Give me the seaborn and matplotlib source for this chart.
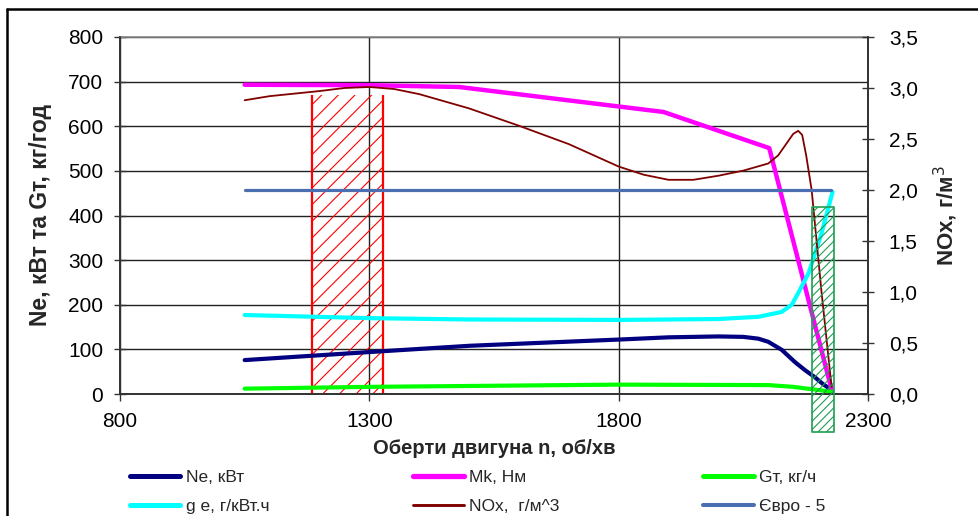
import matplotlib
matplotlib.use("Agg")
import matplotlib.pyplot as plt
import seaborn as sns
import pandas as pd
from matplotlib.lines import Line2D
from matplotlib.ticker import FuncFormatter, MultipleLocator

# ---------------- data ----------------
ne_rpm = [1050, 1300, 1500, 1800, 1900, 2000, 2050, 2080, 2100, 2127, 2153, 2173, 2193, 2210, 2227]
ne_val = [76, 94, 108, 122, 127, 129, 128, 124, 117, 99, 72, 54, 38, 22, 9]

mk_rpm = [1050, 1300, 1480, 1890, 2102, 2227]
mk_val = [693, 692, 688, 632, 551, 10]

gt_rpm = [1050, 1300, 1600, 1800, 2100, 2150, 2200, 2227]
gt_val = [12, 16, 19, 21, 20, 16, 9, 5]

ge_rpm = [1050, 1300, 1500, 1800, 2000, 2080, 2110, 2127, 2147, 2160, 2181, 2207, 2229]
ge_val = [177, 170, 167, 166, 168, 173, 180, 184, 200, 226, 271, 361, 453]

nox_rpm = [1050, 1100, 1200, 1250, 1300, 1350, 1400, 1500, 1600, 1700, 1800, 1850, 1900,
           1950, 2000, 2050, 2100, 2120, 2140, 2150, 2160, 2168, 2176, 2187, 2207, 2227]
nox_val = [2.88, 2.92, 2.97, 3.00, 3.01, 2.99, 2.94, 2.80, 2.63, 2.45, 2.23, 2.15, 2.10,
           2.10, 2.14, 2.19, 2.26, 2.34, 2.48, 2.55, 2.58, 2.54, 2.34, 2.00, 0.99, 0.07]

euro_rpm = [1050, 2225]
euro_val = [2.0, 2.0]

red_zone = [1186, 1327]       # rpm range
red_top = 670                 # left-axis units
green_zone = [2187, 2231]
green_top = 1.83              # right-axis units
green_bottom = -0.37

x_ticks = [800, 1300, 1800, 2300]

labels = {
    "ne": "Ne, кВт", "mk": "Mk, Нм", "gt": "Gт, кг/ч",
    "ge": "g e, г/кВт.ч", "nox": "NOx,  г/м^3", "euro": "Євро - 5",
}

# ---------------- style ----------------
sns.set_theme(style="white")
plt.rcParams['font.family'] = ['Liberation Sans', 'DejaVu Sans']
plt.rcParams['hatch.linewidth'] = 0.8

fig = plt.figure(figsize=(9.79, 5.16), dpi=100)
W, H = 979, 516
ax = fig.add_axes([120 / W, 1 - 394 / H, (868 - 120) / W, (394 - 37) / H])
ax2 = ax.twinx()

ax.set_xlim(800, 2300)
ax.set_ylim(0, 800)
ax2.set_ylim(0, 3.5)
ax.set_xticks(x_ticks)
ax.yaxis.set_major_locator(MultipleLocator(100))
ax2.yaxis.set_major_locator(MultipleLocator(0.5))
ax.grid(True, color="#222222", linewidth=1.0)
ax.set_axisbelow(True)

for a in (ax, ax2):
    for s in ("left", "right", "bottom"):
        a.spines[s].set_color("#333333")
    a.spines["top"].set_visible(False)
ax.spines["top"].set_visible(True)
ax.spines["top"].set_color("#888888")
ax.spines["top"].set_linewidth(1.2)

# red hatched region
ax.fill_between(red_zone, 0, red_top, facecolor="none", edgecolor="#FF0000",
                hatch="//", linewidth=0, zorder=2)
ax.vlines(red_zone, 0, red_top, colors="#FF0000", linewidth=1.6, zorder=2)

def draw(a, xs, ys, color, lw, key):
    df = pd.DataFrame({"x": xs, "y": ys})
    sns.lineplot(data=df, x="x", y="y", ax=a, color=color, linewidth=lw,
                 label=labels[key], legend=False, zorder=3)

draw(ax, ne_rpm, ne_val, "#000080", 3.0, "ne")
draw(ax, mk_rpm, mk_val, "#FF00FF", 3.2, "mk")
draw(ax, gt_rpm, gt_val, "#00FF00", 3.0, "gt")
draw(ax, ge_rpm, ge_val, "#00FFFF", 3.0, "ge")

draw(ax2, nox_rpm, nox_val, "#800000", 1.3, "nox")
draw(ax2, euro_rpm, euro_val, "#4A6EB0", 2.3, "euro")

gr = ax2.fill_between(green_zone, green_bottom, green_top, facecolor="none",
                      edgecolor="#1E9E50", hatch="////", linewidth=1.2, zorder=4)
gr.set_clip_on(False)

# ticks
tfs = 15
ax.tick_params(axis="y", direction="inout", length=8, width=1, labelsize=tfs,
               colors="#333333", labelcolor="black", pad=8, left=True)
ax.tick_params(axis="x", direction="out", length=5, width=1, labelsize=tfs,
               colors="#333333", labelcolor="black", pad=8, bottom=True)
ax2.tick_params(axis="y", direction="inout", length=8, width=1, labelsize=tfs,
                colors="#333333", labelcolor="black", pad=11, right=True)
ax2.yaxis.set_major_formatter(FuncFormatter(lambda v, p: f"{v:.1f}".replace(".", ",")))

ax.set_xlabel("Оберти двигуна n, об/хв", fontsize=14.5, fontweight="bold", labelpad=6)
ax.set_ylabel("Ne, кВт та Gт, кг/год", fontsize=16.5, fontweight="bold", labelpad=12)
ax2.set_ylabel("NOx, г/м$^3$", fontsize=16, fontweight="bold", labelpad=10)

# legend
h1, l1 = ax.get_legend_handles_labels()
h2, l2 = ax2.get_legend_handles_labels()
hd = dict(zip(l1 + l2, h1 + h2))
order = ["ne", "ge", "mk", "nox", "gt", "euro"]
handles = []
for k in order:
    ln = hd[labels[k]]
    handles.append(Line2D([], [], color=ln.get_color(),
                          linewidth=ln.get_linewidth() + (0.8 if k == "nox" else 0.6)))
fig.legend(handles, [labels[k] for k in order], ncol=3, loc="upper left",
           bbox_to_anchor=(130 / W, 1 - 470 / H), frameon=False, fontsize=12.5,
           handlelength=2.9, handletextpad=0.3, columnspacing=8.3, labelspacing=0.78,
           borderaxespad=0, borderpad=0)

# figure frame (top & left)
fig.add_artist(Line2D([7 / W, 1], [1 - 9 / H, 1 - 9 / H], color="black", linewidth=1.8,
                      transform=fig.transFigure))
fig.add_artist(Line2D([7 / W, 7 / W], [0, 1 - 9 / H], color="black", linewidth=1.8,
                      transform=fig.transFigure))

fig.savefig("out.png", dpi=100)
